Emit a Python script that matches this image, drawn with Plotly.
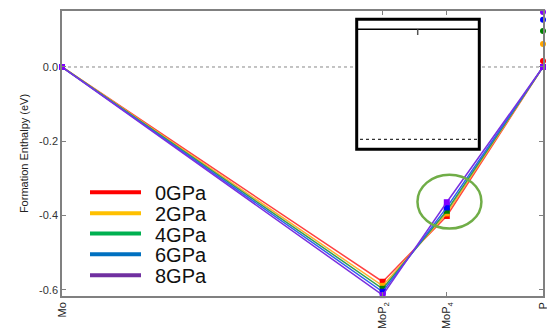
import plotly.graph_objects as go

# ---- data ----
phases = ["Mo", "MoP<sub>2</sub>", "MoP<sub>4</sub>", "P"]
p_fraction = [0.0, 0.6667, 0.8, 1.0]
pressures = ["0GPa", "2GPa", "4GPa", "6GPa", "8GPa"]
h_0 = [0.0, -0.578, -0.401, 0.0]
h_2 = [0.0, -0.589, -0.394, 0.0]
h_4 = [0.0, -0.597, -0.387, 0.0]
h_6 = [0.0, -0.605, -0.378, 0.0]
h_8 = [0.0, -0.614, -0.364, 0.0]
p_phase_h = [0.016, 0.062, 0.097, 0.127, 0.148]  # extra P points above hull
y_ticks = [0.0, -0.2, -0.4, -0.6]
y_tick_text = ["0.0", "-0.2", "-0.4", "-0.6"]

series = [h_0, h_2, h_4, h_6, h_8]
line_colors = ["#FF4040", "#FFB030", "#30A050", "#3060F0", "#7A30E0"]
marker_colors = ["#FF0000", "#FFA500", "#008000", "#0000FF", "#8000FF"]
legend_colors = ["#FF0000", "#FFC000", "#00B050", "#0070C0", "#7030A0"]

fig = go.Figure()

for name, ys, lc, mc in zip(pressures, series, line_colors, marker_colors):
    fig.add_trace(go.Scatter(
        x=p_fraction, y=ys, mode="lines+markers", name=name,
        line=dict(color=lc, width=1.5),
        marker=dict(color=mc, size=6, symbol="square"),
        showlegend=False, cliponaxis=False,
    ))

fig.add_trace(go.Scatter(
    x=[p_fraction[-1]] * len(p_phase_h), y=p_phase_h, mode="markers",
    marker=dict(color=marker_colors, size=6),
    showlegend=False, cliponaxis=False,
))

fig.add_trace(go.Scatter(
    x=[p_fraction[0], p_fraction[-1]], y=[h_8[0], h_8[-1]], mode="markers",
    marker=dict(color=marker_colors[-1], size=6),
    showlegend=False, cliponaxis=False,
))

# plot area in pixels: x 62..543, y 11..296
W, H = 547, 329
L, R, T, B = 62, 4, 11, 33
pw, ph = W - L - R, H - T - B


def px(x):
    return (x - L) / pw


def py(y):
    return (H - B - y) / ph


shapes = [
    dict(type="line", xref="x", yref="y", x0=0, x1=1, y0=0, y1=0,
         line=dict(color="#888888", width=1, dash="dot"), layer="below"),
    # inset box
    dict(type="rect", xref="paper", yref="paper", x0=px(356.7), x1=px(479.3),
         y0=py(149.3), y1=py(19.3),
         line=dict(color="black", width=3), fillcolor="white", layer="above"),
    dict(type="line", xref="paper", yref="paper", x0=px(356.7), x1=px(479.3),
         y0=py(29.3), y1=py(29.3), line=dict(color="black", width=1.5)),
    dict(type="line", xref="paper", yref="paper", x0=px(417.7), x1=px(417.7),
         y0=py(29.3), y1=py(35), line=dict(color="#555555", width=1.5)),
    dict(type="line", xref="paper", yref="paper", x0=px(360), x1=px(477),
         y0=py(139.3), y1=py(139.3),
         line=dict(color="#333333", width=1.2, dash="dot")),
    # green ellipse
    dict(type="circle", xref="x", yref="y", x0=0.739, x1=0.872, y0=-0.435, y1=-0.290,
         line=dict(color="#70AD47", width=2.5)),
]

annotations = []
leg_y = [192.3, 213.3, 233.5, 254.2, 275.3]
for name, c, yy in zip(pressures, legend_colors, leg_y):
    shapes.append(dict(type="line", xref="paper", yref="paper",
                       x0=px(90), x1=px(141), y0=py(yy), y1=py(yy),
                       line=dict(color=c, width=4)))
    annotations.append(dict(xref="paper", yref="paper", x=px(153), y=py(yy + 1),
                            text=name, showarrow=False, xanchor="left",
                            yanchor="middle",
                            font=dict(size=20, color="#111111")))

fig.update_layout(
    width=W, height=H,
    margin=dict(l=L, r=R, t=T, b=B),
    paper_bgcolor="white", plot_bgcolor="white",
    font=dict(family="Liberation Sans, Arial, sans-serif", color="#333333", size=11),
    shapes=shapes, annotations=annotations,
    showlegend=False,
    xaxis=dict(range=[0, 1], tickvals=p_fraction, ticktext=phases, tickangle=-90,
               automargin=False, ticklabeloverflow="allow",
               showgrid=False, zeroline=False, showline=True, linecolor="#808080",
               linewidth=1.5, mirror="ticks", ticks="inside", ticklen=4,
               tickcolor="#808080", tickfont=dict(size=11, color="#222222")),
    yaxis=dict(range=[-0.6164, 0.1507], tickvals=y_ticks, ticktext=y_tick_text,
               automargin=False,
               showgrid=False, zeroline=False, showline=True, linecolor="#808080",
               linewidth=1.5, mirror="ticks", ticks="inside", ticklen=4,
               tickcolor="#808080", tickfont=dict(size=11, color="#333333"),
               title=dict(text="Formation Enthalpy (eV)", font=dict(size=11, color="#222222"),
                          standoff=8)),
)

fig.write_html("out.html", config={"displayModeBar": False},
               post_script="document.body.style.margin='0';document.body.style.overflow='hidden';")
